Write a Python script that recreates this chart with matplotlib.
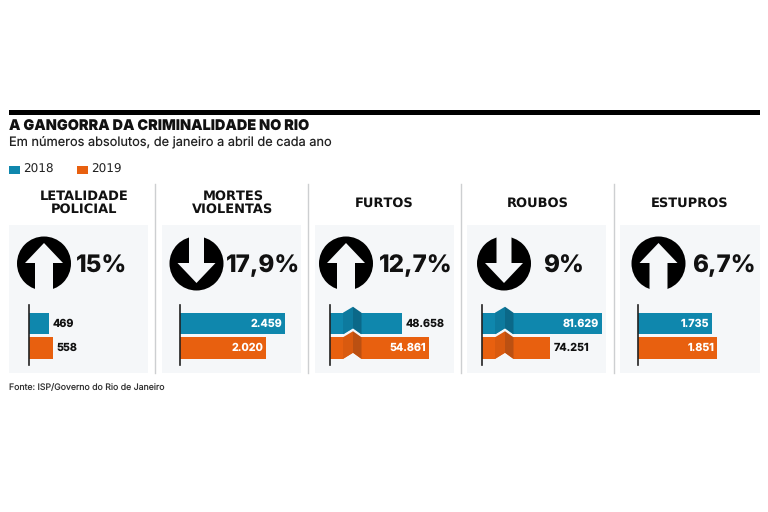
import matplotlib
matplotlib.use('Agg')
import matplotlib.pyplot as plt
from matplotlib.patches import Circle, Polygon, Rectangle

plt.rcParams['text.hinting'] = 'no_hinting'
plt.rcParams['text.hinting_factor'] = 1

# Data
anos = ['2018', '2019']
titulos = ['LETALIDADE\nPOLICIAL', 'MORTES\nVIOLENTAS', 'FURTOS', 'ROUBOS', 'ESTUPROS']
variacao = ['15%', '17,9%', '12,7%', '9%', '6,7%']
direcao = ['up', 'down', 'up', 'down', 'up']
valores_2018 = [469, 2459, 48658, 81629, 1735]
valores_2019 = [558, 2020, 54861, 74251, 1851]
rotulos_2018 = ['469', '2.459', '48.658', '81.629', '1.735']
rotulos_2019 = ['558', '2.020', '54.861', '74.251', '1.851']

# Broken bars: units removed from the axis and units per pixel, per panel
corte = [0, 0, 32118, 64603, 0]
por_pixel = [23.4, 23.4, 229.7, 141.9, 23.4]

# Layout in reference pixels
painel_x = [9, 162, 315, 467, 620]
painel_w = [139, 139, 139, 139, 140]
eixo_x = [29, 180, 330, 482, 638]
circulo_x = [44, 196.5, 346, 504, 658.5]
pct_x = [76, 226, 379, 543, 692]
titulo_x = [84, 233, 384.5, 538, 690]
sep_x = [155, 308, 461, 613.5]
rotulo_dentro = [[False, False], [True, True], [False, True], [True, False], [True, True]]
azul, azul_med, azul_esc = '#0f87ad', '#0d7a9e', '#0b6888'
laranja, laranja_med, laranja_esc = '#e8600f', '#d95a0f', '#bb5012'
fundo = '#f5f7f9'
fonte = 'Inter'

fig = plt.figure(figsize=(7.68, 5.12), dpi=100)
bg = fig.add_axes([0, 0, 1, 1])
bg.set_xlim(0, 768)
bg.set_ylim(512, 0)
bg.axis('off')

# Header
bg.add_patch(Rectangle((9, 110), 751, 5, color='black', lw=0))
bg.text(9, 127, 'A GANGORRA DA CRIMINALIDADE NO RIO', fontsize=10.4, fontweight='black',
        family=fonte, va='center', color='#111111')
bg.text(9, 142.5, 'Em números absolutos, de janeiro a abril de cada ano', fontsize=9.2,
        family=fonte, va='center', color='#222222')

# Legend
for lx, cor, ano in zip([9, 77], [azul, laranja], anos):
    bg.add_patch(Rectangle((lx, 165.5), 11, 8, color=cor, lw=0))
    bg.text(lx + 14, 169.7, ano, fontsize=8.4, family='DejaVu Sans', va='center', color='#222222')

for x in sep_x:
    bg.plot([x, x], [184, 373], color='#cdcfd1', lw=1)

for i in range(5):
    bg.add_patch(Rectangle((painel_x[i], 225), painel_w[i], 148, color=fundo, lw=0))
    bg.text(titulo_x[i], 203, titulos[i], ha='center', va='center', fontsize=9,
            fontweight='bold', family='DejaVu Sans', linespacing=1.05, color='#111111')

    # Circle with the arrow cut out
    cx = circulo_x[i]
    bg.add_patch(Circle((cx, 263.5), 27, color='black', lw=0))
    if direcao[i] == 'up':
        seta = [(cx, 243), (cx + 19, 263), (cx + 9, 263), (cx + 9, 291), (cx - 9, 291), (cx - 9, 263), (cx - 19, 263)]
    else:
        seta = [(cx, 283), (cx + 19, 263), (cx + 7.5, 263), (cx + 7.5, 236), (cx - 7.5, 236), (cx - 7.5, 263), (cx - 19, 263)]
    bg.add_patch(Polygon(seta, closed=True, color=fundo, lw=0))
    bg.text(pct_x[i], 263.5, variacao[i], ha='left', va='center_baseline', fontsize=17.4,
            fontweight='heavy', family=fonte, color='#111111')

    # Bars, on their own axes placed over the panel
    largura = painel_x[i] + painel_w[i] - eixo_x[i]
    ax = fig.add_axes([eixo_x[i] / 768, 1 - 365 / 512, largura / 768, 60 / 512])
    ax.patch.set_alpha(0)
    ax.set_xlim(0, largura * por_pixel[i])
    ax.set_ylim(60, 0)
    ax.set_xticks([])
    ax.set_yticks([])
    for lado in ['top', 'right', 'bottom']:
        ax.spines[lado].set_visible(False)
    ax.spines['left'].set_linewidth(1.2)
    ax.spines['left'].set_color('#222222')
    ax.spines['left'].set_zorder(20)

    linhas = [(valores_2018[i], rotulos_2018[i], azul, azul_med, azul_esc, 18.5),
              (valores_2019[i], rotulos_2019[i], laranja, laranja_med, laranja_esc, 43)]
    for j, (v, rot, cor, cor_med, cor_esc, y) in enumerate(linhas):
        w = v - corte[i]
        z = 2 + 4 * j
        ax.barh(y, w, height=21.5, color=cor, lw=0, zorder=z)
        if corte[i]:
            # Fold marking the cut in the bar, with its notch under the bar
            u = por_pixel[i]
            xa, xb, xc = 13 * u, 23 * u, 31.5 * u
            topo, base = y - 10.75, y + 10.75
            ax.add_patch(Polygon([(xa, base + 0.3), (xb, base - 6), (xc, base + 0.3)],
                                 closed=True, color=fundo, lw=0, zorder=z + 1))
            ax.add_patch(Polygon([(xa, topo), (xb, topo - 6), (xb, base - 6), (xa, base)],
                                 closed=True, color=cor_med, lw=0, zorder=z + 2))
            ax.add_patch(Polygon([(xb, topo - 6), (xc, topo), (xc, base), (xb, base - 6)],
                                 closed=True, color=cor_esc, lw=0, zorder=z + 2))
        if rotulo_dentro[i][j]:
            ax.text(w - 3 * por_pixel[i], y, rot, ha='right', va='center', color='white',
                    fontsize=7.8, fontweight='bold', family=fonte, zorder=15)
        else:
            ax.text(w + 3.5 * por_pixel[i], y, rot, ha='left', va='center', color='#111111',
                    fontsize=7.8, fontweight='bold', family=fonte, zorder=15)

bg.text(9, 387.5, 'Fonte: ISP/Governo do Rio de Janeiro', fontsize=6.3, family=fonte, va='center', color='#333333')

fig.savefig('out.png', dpi=100, facecolor='white')
